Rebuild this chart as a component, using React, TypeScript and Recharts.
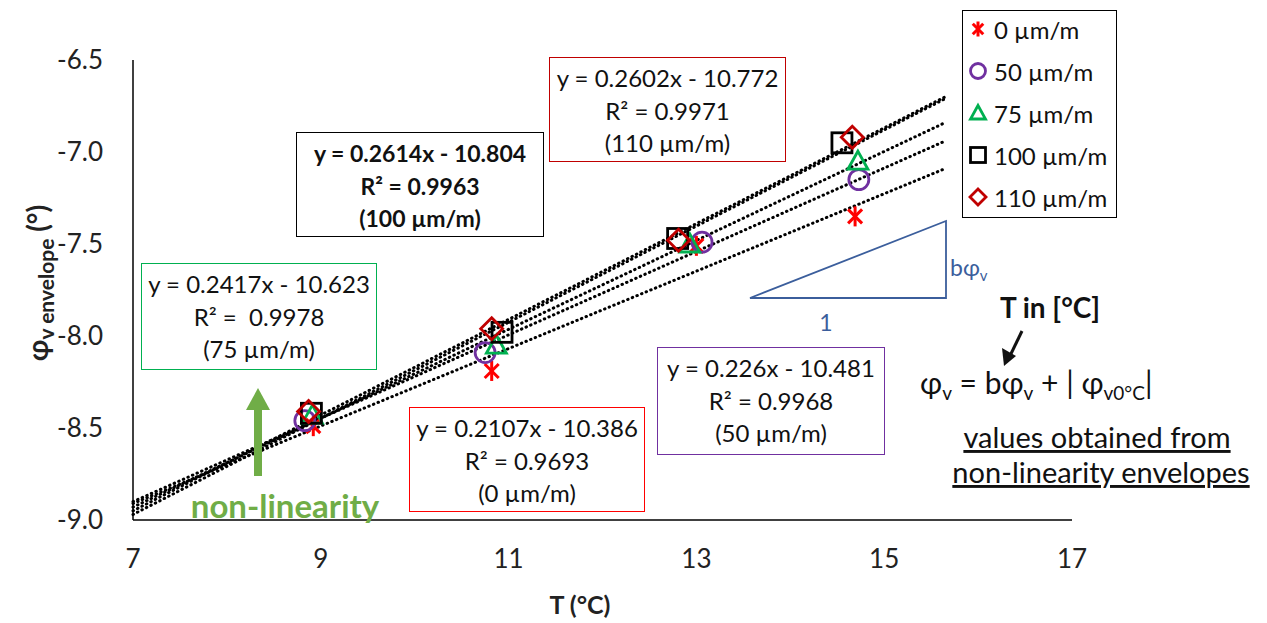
import React from "react"
import { ScatterChart, Scatter, XAxis, YAxis, ReferenceLine } from "recharts"

// tick values
const xTicks = [7, 9, 11, 13, 15, 17]
const yTicks = [-9, -8.5, -8, -7.5, -7, -6.5]

// measured points (T in °C, phi in °)
const strain0 = [
  { T: 8.92, phi: -8.49 },
  { T: 10.82, phi: -8.19 },
  { T: 13.0, phi: -7.51 },
  { T: 14.69, phi: -7.35 },
]
const strain50 = [
  { T: 8.83, phi: -8.46 },
  { T: 10.75, phi: -8.09 },
  { T: 13.06, phi: -7.49 },
  { T: 14.73, phi: -7.15 },
]
const strain75 = [
  { T: 8.91, phi: -8.43 },
  { T: 10.87, phi: -8.05 },
  { T: 12.93, phi: -7.5 },
  { T: 14.72, phi: -7.05 },
]
const strain100 = [
  { T: 8.9, phi: -8.42 },
  { T: 10.93, phi: -7.98 },
  { T: 12.8, phi: -7.47 },
  { T: 14.55, phi: -6.95 },
]
const strain110 = [
  { T: 8.87, phi: -8.41 },
  { T: 10.82, phi: -7.96 },
  { T: 12.81, phi: -7.48 },
  { T: 14.66, phi: -6.92 },
]

// trendline end points
const trend0 = [{ T: 7, phi: -8.91 }, { T: 15.65, phi: -7.09 }]
const trend50 = [{ T: 7, phi: -8.9 }, { T: 15.65, phi: -6.94 }]
const trend75 = [{ T: 7, phi: -8.93 }, { T: 15.65, phi: -6.84 }]
const trend100 = [{ T: 7, phi: -8.97 }, { T: 15.65, phi: -6.71 }]
const trend110 = [{ T: 7, phi: -8.95 }, { T: 15.65, phi: -6.7 }]

const legendLabels = ["0 µm/m", "50 µm/m", "75 µm/m", "100 µm/m", "110 µm/m"]

const FONT = "Lato, 'Open Sans', sans-serif"
const RED = "#FF0000"
const PURPLE = "#7030A0"
const GREEN = "#00B050"
const DARKRED = "#C00000"
const BLUE = "#3B5E9C"
const LIME = "#70AD47"

const Asterisk = ({ cx, cy, r = 10 }: any) => {
  const d = r * 0.7
  return (
    <g stroke={RED} strokeWidth={3}>
      <line x1={cx} y1={cy - r} x2={cx} y2={cy + r} />
      <line x1={cx - d} y1={cy - d} x2={cx + d} y2={cy + d} />
      <line x1={cx - d} y1={cy + d} x2={cx + d} y2={cy - d} />
    </g>
  )
}
const Circle = ({ cx, cy, r = 10 }: any) => (
  <circle cx={cx} cy={cy} r={r} fill="none" stroke={PURPLE} strokeWidth={2.8} />
)
const Triangle = ({ cx, cy, r = 10 }: any) => (
  <polygon
    points={`${cx},${cy - r} ${cx + r},${cy + r * 0.8} ${cx - r},${cy + r * 0.8}`}
    fill="none"
    stroke={GREEN}
    strokeWidth={2.8}
  />
)
const Square = ({ cx, cy, r = 10 }: any) => (
  <rect x={cx - r} y={cy - r} width={2 * r} height={2 * r} fill="none" stroke="#000" strokeWidth={2.8} />
)
const Diamond = ({ cx, cy, r = 11 }: any) => (
  <polygon
    points={`${cx},${cy - r} ${cx + r},${cy} ${cx},${cy + r} ${cx - r},${cy}`}
    fill="none"
    stroke={DARKRED}
    strokeWidth={2.8}
  />
)

const legendShapes = [Asterisk, Circle, Triangle, Square, Diamond]

const dotted = { stroke: "#000", strokeWidth: 3, strokeDasharray: "0.5 4.5", strokeLinecap: "round" as const }

const YLabel = () => (
  <text
    transform="translate(48, 283) rotate(-90)"
    textAnchor="middle"
    fontFamily={FONT}
    fontWeight={700}
    fontSize={28}
    fill="#222"
  >
    φ
    <tspan fontSize={21} dy={6}>v envelope</tspan>
    <tspan dy={-6}> (°)</tspan>
  </text>
)

const XLabel = () => (
  <text x={580} y={614} textAnchor="middle" fontFamily={FONT} fontWeight={700} fontSize={25} fill="#222">
    T (°C)
  </text>
)

const boxStyle = (left: number, top: number, width: number, height: number, color: string, bold = false) => ({
  position: "absolute" as const,
  left,
  top,
  width,
  height,
  border: `1.5px solid ${color}`,
  boxSizing: "border-box" as const,
  fontFamily: FONT,
  fontSize: bold ? 23 : 24,
  fontWeight: bold ? 700 : 400,
  color: "#111",
  textAlign: "center" as const,
  lineHeight: "32.5px",
  paddingTop: 4,
  whiteSpace: "pre" as const,
  background: "#fff",
})

export default function App() {
  return (
    <div style={{ position: "absolute", left: 0, top: 0, width: 1267, height: 623, background: "#fff" }}>
      <ScatterChart width={1267} height={623} margin={{ top: 60, right: 195, bottom: 43, left: 53 }}>
        <XAxis
          type="number"
          dataKey="T"
          domain={[7, 17]}
          ticks={xTicks}
          tickLine={false}
          tickMargin={24}
          height={60}
          axisLine={{ stroke: "#000", strokeWidth: 1.5 }}
          tick={{ fill: "#222", fontSize: 26, fontFamily: FONT }}
          label={<XLabel />}
        />
        <YAxis
          type="number"
          dataKey="phi"
          domain={[-9, -6.5]}
          ticks={yTicks}
          tickLine={false}
          tickMargin={24}
          width={80}
          axisLine={{ stroke: "#000", strokeWidth: 1.5 }}
          tickFormatter={(v: number) => v.toFixed(1)}
          tick={{ fill: "#222", fontSize: 26, fontFamily: FONT }}
          label={<YLabel />}
        />
        <Scatter data={strain0} shape={(p: any) => <Asterisk cx={p.cx} cy={p.cy} />} isAnimationActive={false} />
        <Scatter data={strain50} shape={(p: any) => <Circle cx={p.cx} cy={p.cy} />} isAnimationActive={false} />
        <Scatter data={strain75} shape={(p: any) => <Triangle cx={p.cx} cy={p.cy} />} isAnimationActive={false} />
        <Scatter data={strain100} shape={(p: any) => <Square cx={p.cx} cy={p.cy} />} isAnimationActive={false} />
        <Scatter data={strain110} shape={(p: any) => <Diamond cx={p.cx} cy={p.cy} />} isAnimationActive={false} />
        {[trend0, trend50, trend75, trend100, trend110].map((t, i) => (
          <ReferenceLine
            key={i}
            segment={[
              { x: t[0].T, y: t[0].phi },
              { x: t[1].T, y: t[1].phi },
            ]}
            {...dotted}
          />
        ))}
      </ScatterChart>

      {/* annotation boxes */}
      <div style={boxStyle(549, 57, 237, 105, DARKRED)}>
        {"y = 0.2602x - 10.772\nR² = 0.9971\n(110 µm/m)"}
      </div>
      <div style={boxStyle(296, 132, 248, 105, "#000", true)}>
        {"y = 0.2614x - 10.804\nR² = 0.9963\n(100 µm/m)"}
      </div>
      <div style={boxStyle(141, 263, 236, 107, GREEN)}>
        {"y = 0.2417x - 10.623\nR² =  0.9978\n(75 µm/m)"}
      </div>
      <div style={boxStyle(409, 407, 236, 105, RED)}>
        {"y = 0.2107x - 10.386\nR² = 0.9693\n(0 µm/m)"}
      </div>
      <div style={boxStyle(657, 347, 228, 108, PURPLE)}>
        {"y = 0.226x - 10.481\nR² = 0.9968\n(50 µm/m)"}
      </div>

      {/* legend */}
      <div
        style={{
          position: "absolute",
          left: 962,
          top: 10,
          width: 155,
          height: 208,
          border: "1.5px solid #000",
          boxSizing: "border-box",
          background: "#fff",
          fontFamily: FONT,
          fontSize: 24,
          color: "#111",
        }}
      >
        <div style={{ marginTop: -3 }}>
          {legendLabels.map((lab, i) => {
            const Shape = legendShapes[i]
            return (
              <div key={lab} style={{ display: "flex", alignItems: "center", height: 42 }}>
                <svg width={24} height={24} style={{ marginLeft: 3 }}>
                  <Shape cx={12} cy={12} r={i === 4 ? 8 : 7.5} />
                </svg>
                <span style={{ marginLeft: 4 }}>{lab}</span>
              </div>
            )
          })}
        </div>
      </div>

      {/* drawing overlay */}
      <svg width={1267} height={623} style={{ position: "absolute", left: 0, top: 0, pointerEvents: "none" }}>
        <polygon points="750,298 946,221 946,298" fill="none" stroke={BLUE} strokeWidth={1.8} />
        <text x={950} y={276} fontFamily={FONT} fontSize={23} fill={BLUE}>
          bφ<tspan fontSize={15} dy={5}>v</tspan>
        </text>
        <text x={826} y={331} textAnchor="middle" fontFamily={FONT} fontSize={23} fill={BLUE}>
          1
        </text>

        <rect x={254} y={408} width={8} height={68} fill={LIME} />
        <polygon points="246,410 270,410 258,388" fill={LIME} />
        <text x={285} y={518} textAnchor="middle" fontFamily={FONT} fontSize={33} fontWeight={700} fill={LIME}>
          non-linearity
        </text>

        <text x={1050} y={318} textAnchor="middle" fontFamily={FONT} fontSize={28} fontWeight={700} fill="#111">
          T in [°C]
        </text>
        <line x1={1022} y1={331} x2={1008} y2={360} stroke="#111" strokeWidth={3} />
        <polygon points="1004,366 1002,348 1016,356" fill="#111" />
        <text x={920} y={394} fontFamily={FONT} fontSize={30} fill="#111">
          φ<tspan fontSize={19} dy={6}>v</tspan>
          <tspan dy={-6}> = bφ</tspan>
          <tspan fontSize={19} dy={6}>v</tspan>
          <tspan dy={-6}> +  | φ</tspan>
          <tspan fontSize={19} dy={6}>v0°C</tspan>
          <tspan dy={-6}>|</tspan>
        </text>
        <text x={1097} y={448} textAnchor="middle" fontFamily={FONT} fontSize={29} fill="#111" textDecoration="underline">
          values obtained from
        </text>
        <text x={1101} y={483} textAnchor="middle" fontFamily={FONT} fontSize={29} fill="#111" textDecoration="underline">
          non-linearity envelopes
        </text>
      </svg>
    </div>
  )
}
